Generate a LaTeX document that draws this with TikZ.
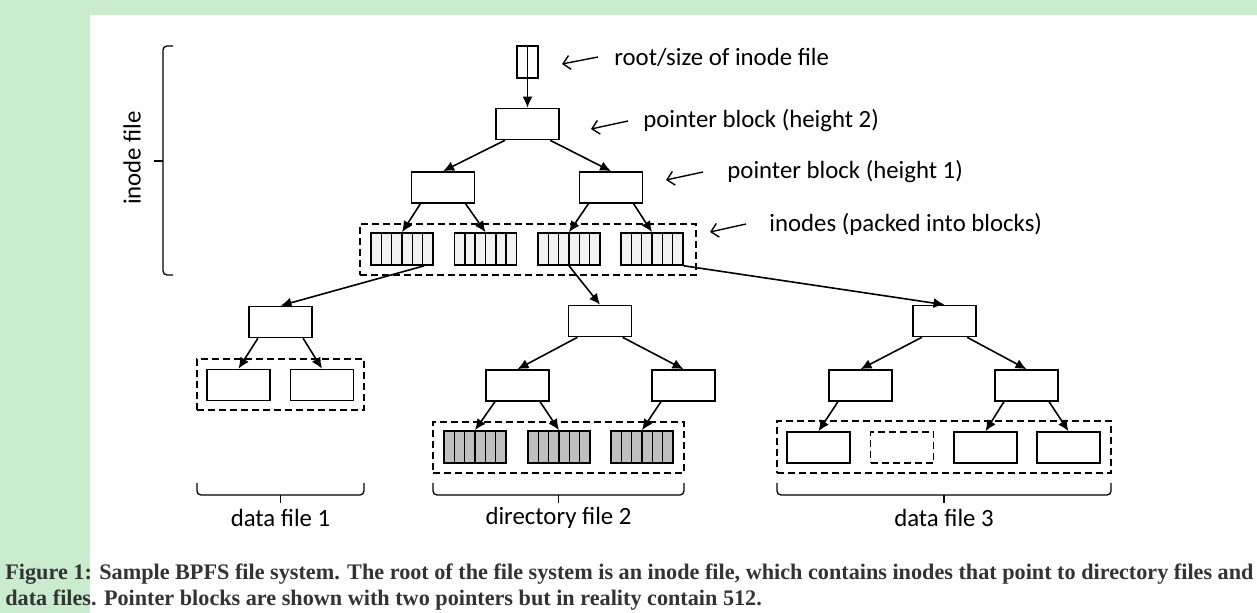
\documentclass[tikz,border=0pt]{standalone}
\usepackage{fontspec}
\setmainfont{Carlito}
\newfontfamily\capfont{Liberation Serif}
\usetikzlibrary{arrows.meta,calc}
\definecolor{pagegreen}{RGB}{200,236,205}
\definecolor{inodegray}{RGB}{242,242,242}
\definecolor{dirgray}{RGB}{191,191,191}
\definecolor{captext}{RGB}{51,51,51}
\tikzset{
  blk/.style={draw, line width=0.8pt, minimum width=31.5pt, minimum height=15.5pt, inner sep=0pt},
  cellblk/.style={blk, minimum width=31pt, minimum height=16pt,
    path picture={\foreach \k in {1,...,5}{\draw[line width=0.75pt] ($(path picture bounding box.south west)!\k/6!(path picture bounding box.south east)$) -- ($(path picture bounding box.north west)!\k/6!(path picture bounding box.north east)$);}}},
  inode/.style={cellblk, fill=inodegray},
  dirblk/.style={cellblk, fill=dirgray},
  grp/.style={draw, line width=0.8pt, dash pattern=on 3.5pt off 2pt, inner sep=0pt, minimum height=25.5pt},
  ptr/.style={-{Latex[length=5.5pt,width=5pt]}, line width=0.8pt},
  note/.style={-{Straight Barb[length=3.5pt,width=7pt]}, line width=0.7pt},
  lbl/.style={font=\fontsize{12.4}{14}\selectfont, inner sep=0pt},
  brc/.style={line width=0.65pt, rounded corners=2pt},
  captxt/.style={anchor=base west, inner sep=0pt, text=captext, font=\capfont\bfseries\fontsize{11.1}{13}\selectfont},
}
\begin{document}
\begin{tikzpicture}[x=0.5pt,y=-0.5pt]
\useasboundingbox (0,0) rectangle (1257,613);
\fill[pagegreen] (0,0) rectangle (1257,613);
\fill[white] (90,15) rectangle (1257,613);
% inode file
\node[draw, line width=0.8pt, minimum width=10.5pt, minimum height=16pt, inner sep=0pt] (root) at (527.5,62){};
\draw[line width=0.7pt] (root.north) -- (root.south);
\node[blk] (p2) at (527.5,124){};
\node[blk] (p1a) at (443,187.5){};
\node[blk] (p1b) at (611,187.5){};
\node[grp, minimum width=168pt] (g0) at (528,249.5){};
\node[inode] (i1) at (402,249){};
\node[inode] (i2) at (485.5,249){};
\node[inode] (i3) at (569,249){};
\node[inode] (i4) at (652,249){};
\draw[ptr] (root.south) -- (p2.north);
\draw[ptr] ($(p2.south west)!0.15!(p2.south east)$) -- (p1a.north);
\draw[ptr] ($(p2.south west)!0.85!(p2.south east)$) -- (p1b.north);
\draw[ptr] ($(p1a.south west)!0.15!(p1a.south east)$) -- (i1.north);
\draw[ptr] ($(p1a.south west)!0.85!(p1a.south east)$) -- (i2.north);
\draw[ptr] ($(p1b.south west)!0.15!(p1b.south east)$) -- (i3.north);
\draw[ptr] ($(p1b.south west)!0.85!(p1b.south east)$) -- (i4.north);
% notes
\node[lbl, anchor=west] (n0) at (614,57){root/size of inode file};
\node[lbl, anchor=west] (n1) at (643,121){pointer block (height 2)};
\node[lbl, anchor=west] (n2) at (727,172){pointer block (height 1)};
\node[lbl, anchor=west] (n3) at (769,224){inodes (packed into blocks)};
\draw[note] ([xshift=-8pt]n0.west) -- ++(-36,7);
\draw[note] ([xshift=-7.5pt]n1.west) -- ++(-37,8);
\draw[note] ([xshift=-12pt]n2.west) -- ++(-37,8);
\draw[note] ([xshift=-11.5pt]n3.west) -- ++(-36,8);
% data file 1
\node[blk] (d1p) at (280.5,322){};
\node[grp, minimum width=83.5pt] (g1) at (280.5,384.5){};
\node[blk] (d1a) at (238.5,385){};
\node[blk] (d1b) at (322,385){};
\draw[ptr] ($(i1.south west)!0.85!(i1.south east)$) -- (d1p.north);
\draw[ptr] ($(d1p.south west)!0.15!(d1p.south east)$) -- (d1a.north);
\draw[ptr] ($(d1p.south west)!0.85!(d1p.south east)$) -- (d1b.north);
% directory file 2
\node[blk] (d2p) at (600,321){};
\node[blk] (d2a) at (517.5,385.5){};
\node[blk] (d2b) at (683.5,385.5){};
\node[grp, minimum width=125.5pt] (g2) at (558.5,447.5){};
\node[dirblk] (r1) at (475,447){};
\node[dirblk] (r2) at (559,447){};
\node[dirblk] (r3) at (642,447){};
\draw[ptr] (i3.south) -- (d2p.north);
\draw[ptr] ($(d2p.south west)!0.15!(d2p.south east)$) -- (d2a.north);
\draw[ptr] ($(d2p.south west)!0.85!(d2p.south east)$) -- (d2b.north);
\draw[ptr] ($(d2a.south west)!0.15!(d2a.south east)$) -- (r1.north);
\draw[ptr] ($(d2a.south west)!0.85!(d2a.south east)$) -- (r2.north);
\draw[ptr] ($(d2b.south west)!0.15!(d2b.south east)$) -- (r3.north);
% data file 3
\node[blk] (d3p) at (944.5,321){};
\node[blk] (d3a) at (860.5,385.5){};
\node[blk] (d3b) at (1026.5,385.5){};
\node[grp, minimum width=167pt, minimum height=26pt] (g3) at (944,447){};
\node[blk] (e1) at (818.5,447.5){};
\node[blk, dash pattern=on 3.5pt off 2pt] (e2) at (902,447.5){};
\node[blk] (e3) at (985.5,447.5){};
\node[blk] (e4) at (1068.5,447.5){};
\draw[ptr] (i4.south east) -- (d3p.north);
\draw[ptr] ($(d3p.south west)!0.15!(d3p.south east)$) -- (d3a.north);
\draw[ptr] ($(d3p.south west)!0.85!(d3p.south east)$) -- (d3b.north);
\draw[ptr] ($(d3a.south west)!0.15!(d3a.south east)$) -- (e1.north);
\draw[ptr] ($(d3b.south west)!0.15!(d3b.south east)$) -- (e3.north);
\draw[ptr] ($(d3b.south west)!0.85!(d3b.south east)$) -- (e4.north);
% braces
\draw[brc] (173,46) -- (163,46) -- (163,275) -- (173,275);
\draw[line width=0.65pt] (163,161) -- (154,161);
\node[lbl, rotate=90] (inodefile) at (132,158){inode file};
\foreach \a/\b/\t in {197/364/data file 1, 433/684/directory file 2, 777/1111/data file 3}{
  \draw[brc] (\a,483) -- (\a,495) -- (\b,495) -- (\b,483);
  \draw[line width=0.65pt] ({(\a+\b)/2},495) -- ({(\a+\b)/2},503);
  \node[lbl] at ({(\a+\b)/2},518){\t};
}
% caption
\node[captxt] (cap1) at (5,580){Figure 1: Sample BPFS file system. The root of the file system is an inode file, which contains inodes that point to directory files and};
\node[captxt] (cap2) at (5,606){data files. Pointer blocks are shown with two pointers but in reality contain 512.};
\end{tikzpicture}
\end{document}
